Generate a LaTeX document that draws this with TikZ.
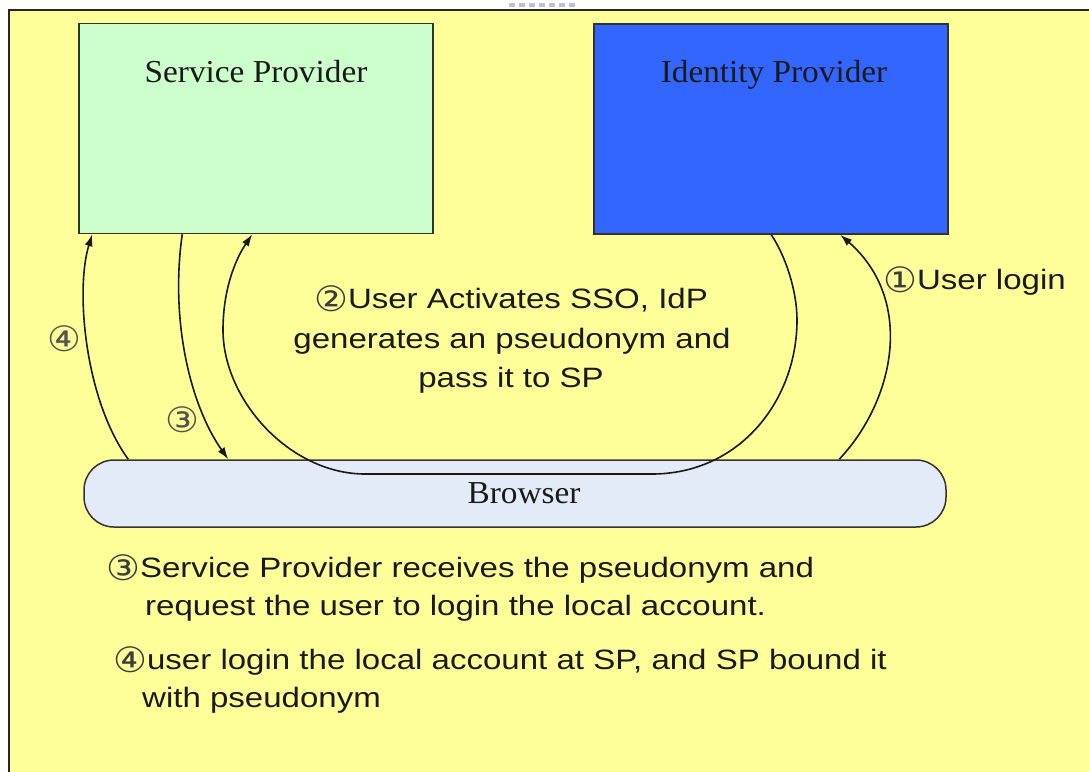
\documentclass[tikz,border=0pt]{standalone}
\usepackage{fontspec}
\usetikzlibrary{arrows.meta,calc}
\newfontfamily\arialf[FakeStretch=1.18]{Liberation Sans}
\newfontfamily\circf[FakeStretch=1.08]{DejaVu Sans}
\newfontfamily\timesf[FakeStretch=1.04]{Liberation Serif}
\newcommand{\cnum}[1]{\raisebox{-3.5pt}{\color{txt!85}\circf\fontsize{35}{40}\selectfont #1}}
\definecolor{bgyellow}{HTML}{FFFF99}
\definecolor{spgreen}{HTML}{CCFFCC}
\definecolor{idpblue}{HTML}{3366FF}
\definecolor{brfill}{HTML}{E4EBF8}
\definecolor{txt}{HTML}{1A1A1A}
\definecolor{smudge}{HTML}{B8C2DE}
\begin{document}
\begin{tikzpicture}[x=1pt,y=-1pt,
  box/.style={draw=black!80,line width=1.5pt,minimum width=354pt,minimum height=210pt,inner sep=0pt},
  conn/.style={line width=1.6pt,draw=black!90},
  tip/.style={-{Latex[length=12pt,width=8pt]}},
  lbl/.style={font=\arialf\fontsize{28}{40}\selectfont,text=txt,inner sep=0pt,anchor=base west},
  clbl/.style={font=\arialf\fontsize{28}{40}\selectfont,text=txt,inner sep=0pt,anchor=base},
  num/.style={font=\circf\fontsize{35}{40}\selectfont,text=txt!75,inner sep=0pt},
  ttl/.style={font=\timesf\fontsize{32}{36}\selectfont,text=txt,inner sep=0pt,anchor=base}]
\useasboundingbox (0,0) rectangle (1089,771);
\fill[white] (0,0) rectangle (1089,771);
% faint smudge at the top
\foreach \xx in {509,519,529,539,549,559,569}{\fill[smudge] (\xx,3) rectangle ++(6,4);}
% panel
\fill[bgyellow] (9,10) rectangle (1095,780);
\draw[black!85,line width=2pt] (9,780) -- (9,10) -- (1095,10);
% boxes
\node[box,fill=spgreen] (sp) at (256,128.5) {};
\node[box,fill=idpblue] (idp) at (771,129) {};
\node[draw=black!80,line width=1.5pt,fill=brfill,minimum width=862pt,minimum height=67pt,rounded corners=30pt,inner sep=0pt] (browser) at (515,493.5) {};
\node[ttl] (sptxt) at (256,82) {Service Provider};
\node[ttl] (idptxt) at (774,82) {Identity Provider};
\node[ttl] (brtxt) at (524,503) {Browser};
% connector 1
\draw[conn,tip] ($(browser.north west)+(756,0)$) .. controls (895,400) and (915,300) .. ($(idp.south west)+(247,0)$);
% connector 2
\draw[conn,tip] ($(idp.south west)+(178,0)$) .. controls (785,255) and (797,290) .. (797,320)
   .. controls (797,400) and (740,474) .. (652,474) -- (365,474)
   .. controls (290,474) and (223,400) .. (223,330)
   .. controls (223,290) and (235,260) .. ($(sp.south west)+(174,0)$);
% connector 3
\draw[conn,tip] ($(sp.south west)+(104,0)$) .. controls (170,320) and (190,405) .. ($(browser.north west)+(145,0)$);
% connector 4
\draw[conn,tip] ($(browser.north west)+(45,0)$) .. controls (85,400) and (75,290) .. ($(sp.south west)+(14,0)$);
% labels
\node[num] (n4) at (64,339) {④};
\node[num] (n3) at (182.5,420) {③};
\node[lbl] (l1) at (883,289) {\cnum{①}User login};
\node[clbl] (l2a) at (511,308) {\cnum{②}User Activates SSO, IdP};
\node[clbl] (l2b) at (512,348) {generates an pseudonym and};
\node[clbl] (l2c) at (511,387) {pass it to SP};
\node[lbl] (b1) at (106,577) {\cnum{③}Service Provider receives the pseudonym and};
\node[lbl] (b2) at (145,615) {request the user to login the local account.};
\node[lbl] (b3) at (113,669) {\cnum{④}user login the local account at SP, and SP bound it};
\node[lbl] (b4) at (142,707) {with pseudonym};
\end{tikzpicture}
\end{document}
